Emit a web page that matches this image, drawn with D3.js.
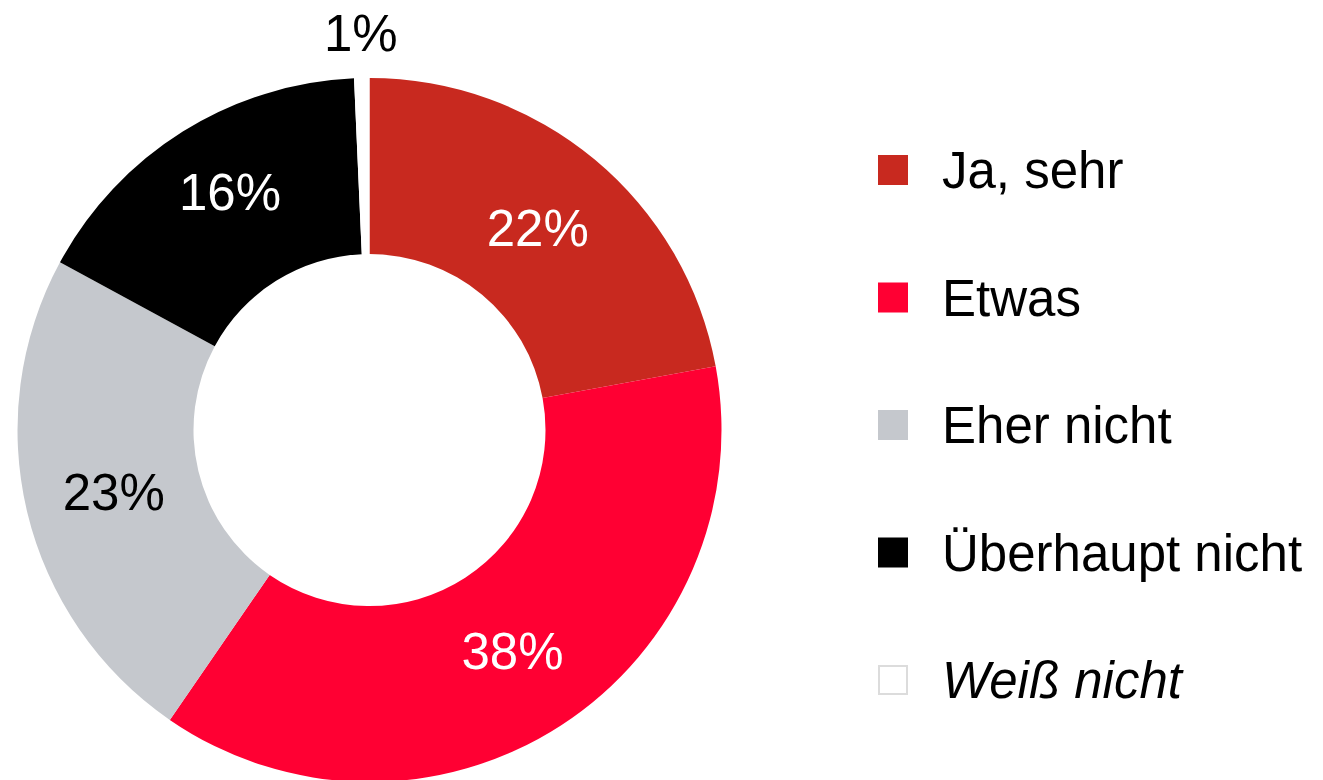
<!DOCTYPE html>
<html>
<head>
<meta charset="utf-8">
<script src="https://cdn.jsdelivr.net/npm/d3@7"></script>
<style>
  body { margin: 0; background: #fff; }
  svg { display: block; font-family: "Liberation Sans", Arial, sans-serif; }
</style>
</head>
<body>
<svg width="1323" height="780"></svg>
<script>
const categories = ["Ja, sehr", "Etwas", "Eher nicht", "Überhaupt nicht", "Weiß nicht"]
const shares = [22.1, 37.5, 23.3, 16.4, 0.7]
const pctLabels = ["22%", "38%", "23%", "16%", "1%"]
const colors = ["#c8291f", "#ff0033", "#c5c8cd", "#000000", "#ffffff"]
const labelColors = ["#fff", "#fff", "#000", "#fff", "#000"]

const svg = d3.select('svg')
const cx = 369.5, cy = 430, outerR = 352, innerR = 176

const data = categories.map((c, i) => ({ name: c, value: shares[i], label: pctLabels[i], color: colors[i], textColor: labelColors[i] }))

const pie = d3.pie().value(d => d.value).sort(null)
const arcs = pie(data)
const arc = d3.arc().innerRadius(innerR).outerRadius(outerR)
const labelArc = d3.arc().innerRadius(263).outerRadius(263)
const outsideArc = d3.arc().innerRadius(397).outerRadius(397)

const g = svg.append('g').attr('transform', `translate(${cx},${cy})`)

g.selectAll('path')
    .data(arcs)
    .enter().append('path')
    .attr('d', arc)
    .attr('fill', d => d.data.color)

g.selectAll('text')
    .data(arcs)
    .enter().append('text')
    .attr('transform', d => {
        const p = d.data.value < 3 ? outsideArc.centroid(d) : labelArc.centroid(d)
        // small nudge for the black slice label, as in the original
        const nudge = d.data.name === "Überhaupt nicht" ? -15 : 0
        return `translate(${p[0]},${p[1] + nudge})`
    })
    .attr('text-anchor', 'middle')
    .attr('dy', '0.36em')
    .attr('font-size', 51)
    .attr('fill', d => d.data.textColor)
    .text(d => d.data.label)

// legend
const legendY = d3.scalePoint().domain(categories).range([170, 680])

const legend = svg.append('g')
    .selectAll('g')
    .data(data)
    .enter().append('g')
    .attr('transform', d => `translate(878,${legendY(d.name)})`)

legend.append('rect')
    .attr('x', d => d.name === "Weiß nicht" ? 1 : 0)
    .attr('y', d => d.name === "Weiß nicht" ? -14 : -15)
    .attr('width', d => d.name === "Weiß nicht" ? 28 : 30)
    .attr('height', d => d.name === "Weiß nicht" ? 28 : 30)
    .attr('fill', d => d.color)
    .attr('stroke', d => d.name === "Weiß nicht" ? "#dcdcdc" : "none")
    .attr('stroke-width', 2)

legend.append('text')
    .attr('x', 64)
    .attr('dy', '0.36em')
    .attr('font-size', 51)
    .attr('font-style', d => d.name === "Weiß nicht" ? "italic" : "normal")
    .attr('fill', '#000')
    .text(d => d.name)
</script>
</body>
</html>
